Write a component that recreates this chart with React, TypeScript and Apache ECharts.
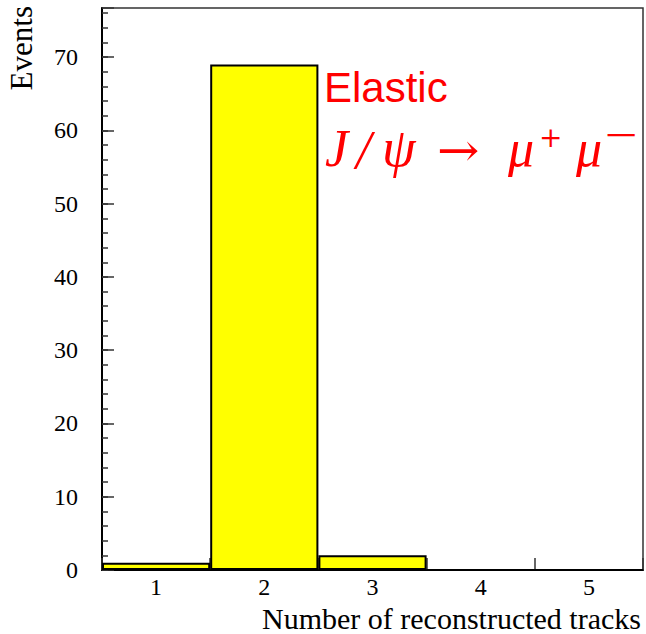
import React, { useEffect, useRef } from "react";
import * as echarts from "echarts";

const categories = ["1", "2", "3", "4", "5"];
const events = [1, 69, 2, 0, 0];
const yMin = 0;
const yMax = 76.7;
const yMajorStep = 10;
const yMinorStep = 2;
const xTitle = "Number of reconstructed tracks";
const yTitle = "Events";
const label1 = "Elastic";

const SERIF = "'Liberation Serif', 'Times New Roman', serif";
const MATH = "'DejaVu Serif', serif";
const SANS = "'Liberation Sans', Arial, sans-serif";
const RED = "#ff0000";

export default function App() {
  const ref = useRef<HTMLDivElement>(null);
  useEffect(() => {
    if (!ref.current) return;
    const chart = echarts.init(ref.current, undefined, { renderer: "svg" });
    const txt = (text: string, x: number, y: number, font: string, extra: any = {}) => ({
      type: "text",
      x,
      y,
      ...extra,
      style: {
        text,
        fill: RED,
        font,
        align: "left",
        verticalAlign: "middle",
      },
    });
    chart.setOption({
      animation: false,
      grid: {
        left: 102,
        right: 3,
        top: 8,
        bottom: 64,
        show: true,
        borderColor: "#333",
        borderWidth: 1.5,
        backgroundColor: "transparent",
      },
      xAxis: {
        type: "category",
        data: categories,
        boundaryGap: true,
        axisLine: { show: true, lineStyle: { color: "#000", width: 2 } },
        axisTick: { show: true, inside: true, length: 12, alignWithLabel: false, lineStyle: { color: "#333", width: 1.5 } },
        axisLabel: { color: "#000", fontFamily: SERIF, fontSize: 24, margin: 5 },
        splitLine: { show: false },
      },
      yAxis: [
        {
          type: "value",
          min: yMin,
          max: yMax,
          interval: yMinorStep,
          axisLine: { show: true, lineStyle: { color: "#000", width: 2 } },
          axisTick: { show: true, inside: true, length: 6, lineStyle: { color: "#333", width: 1.5 } },
          axisLabel: {
            color: "#000",
            fontFamily: SERIF,
            fontSize: 24,
            margin: 24,
            showMaxLabel: false,
            formatter: (v: number) => (Math.abs(v % yMajorStep) < 1e-6 ? String(v) : ""),
          },
          splitLine: { show: false },
        },
        {
          type: "value",
          position: "left",
          min: yMin,
          max: yMax,
          interval: yMajorStep,
          axisLine: { show: false },
          axisTick: { show: true, inside: true, length: 12, lineStyle: { color: "#333", width: 1.5 } },
          axisLabel: { show: false },
          splitLine: { show: false },
        },
      ],
      series: [
        {
          type: "bar",
          data: events,
          yAxisIndex: 0,
          barCategoryGap: "0%",
          itemStyle: { color: "#ffff00", borderColor: "#000", borderWidth: 2 },
          z: 1,
        },
      ],
      graphic: [
        {
          type: "text",
          right: 5,
          top: 603,
          style: { text: xTitle, fill: "#000", font: `30px ${SERIF}` },
        },
        {
          type: "text",
          x: 21,
          y: 6,
          rotation: Math.PI / 2,
          style: { text: yTitle, fill: "#000", font: `31px ${SERIF}`, align: "right", verticalAlign: "middle" },
        },
        {
          type: "text",
          x: 324,
          y: 87,
          style: { text: label1, fill: RED, font: `42px ${SANS}`, align: "left", verticalAlign: "middle" },
        },
        txt("J", 325, 148, `italic 52px ${SERIF}`),
        txt("/", 356, 150, `italic 54px ${SERIF}`),
        txt("ψ", 382, 148, `italic 54px ${SERIF}`),
        txt("→", 437, 150, `46px ${MATH}`, { scaleX: 1.1 }),
        txt("μ", 508, 148, `italic 52px ${SERIF}`),
        txt("+", 539, 137, `28px ${MATH}`),
        txt("μ", 576, 148, `italic 52px ${SERIF}`),
        txt("−", 603, 134, `28px ${MATH}`, { scaleX: 1.55 }),
      ],
    });
    return () => chart.dispose();
  }, []);
  return (
    <div
      ref={ref}
      style={{ position: "absolute", left: 0, top: 0, width: 646, height: 634, background: "#fff" }}
    />
  );
}
